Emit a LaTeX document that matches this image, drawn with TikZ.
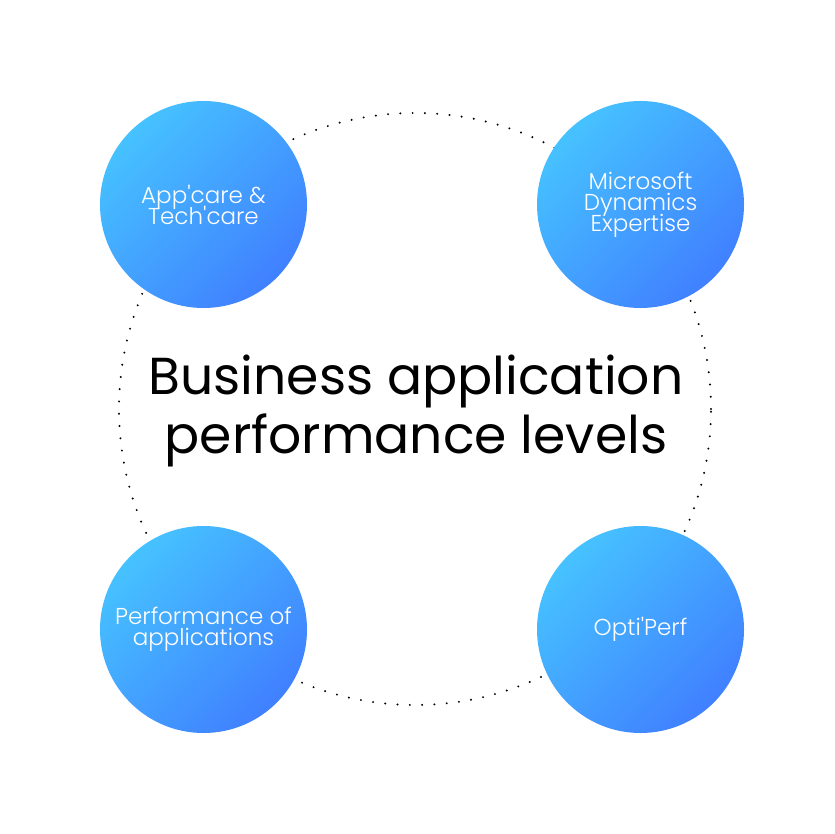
\documentclass[tikz,border=0pt]{standalone}
\usepackage{fontspec}
\setmainfont{Poppins}
\newfontfamily\lightfont{Poppins}[UprightFont=* Light]
\newcommand\tightlines{\lineskiplimit=-100pt\relax}
\definecolor{gradA}{HTML}{46C2FF}
\definecolor{gradB}{HTML}{4080FF}
\tikzset{
  bubble/.style={circle, minimum size=207pt, inner sep=0pt,
    top color=gradA, bottom color=gradB, shading angle=45,
    text=white, align=center,
    font=\lightfont\fontsize{23}{21}\selectfont\tightlines},
  ring/.style={circle, draw=black, line width=2.2pt, line cap=round,
    dash pattern=on 0pt off 12.3pt, minimum size=592pt, inner sep=0pt},
  title/.style={align=center, text=black,
    font=\fontsize{52}{59}\selectfont\tightlines}
}
\begin{document}
\begin{tikzpicture}[x=1pt,y=-1pt]
\useasboundingbox (0,0) rectangle (834,834);
\fill[white] (0,0) rectangle (834,834);
\node[ring] (r) at (415,409) {};
\node[bubble] (a) at (203.5,204.5) {App'care \&\\Tech'care};
\node[bubble] (b) at (640.5,204.5) {Microsoft\\Dynamics\\Expertise};
\node[bubble] (c) at (203.5,629.5) {Performance of\\applications};
\node[bubble] (d) at (640.5,629.5) {Opti'Perf};
\node[title] (t) at (416,411) {Business application\\performance levels};
\end{tikzpicture}
\end{document}
